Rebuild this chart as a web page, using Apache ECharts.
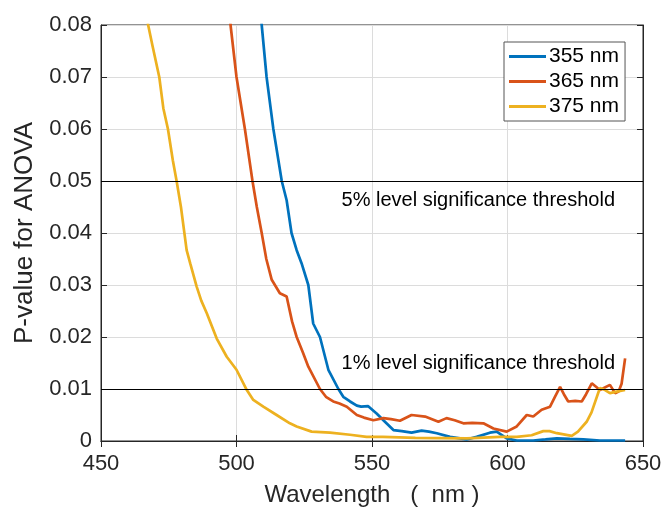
<!DOCTYPE html>
<html>
<head>
<meta charset="utf-8">
<script src="https://cdn.jsdelivr.net/npm/echarts@6/dist/echarts.min.js"></script>
<style>
  html, body { margin: 0; padding: 0; background: #fff; }
  #chart { width: 664px; height: 509px; }
</style>
</head>
<body>
<div id="chart"></div>
<script>
// wavelength (nm) and ANOVA p-values
var wl355 = [508, 509.3, 511.1, 513.6, 516.7, 518.5, 520.3, 522.2, 524, 526.5, 528.3, 530.8, 533.9, 537.6, 539.4, 541.9, 544.4, 546, 548.6, 551.7, 554.2, 557.9, 561, 564.6, 568.3, 571, 573.9, 578.8, 584.9, 588.6, 593.5, 596, 599.7, 603.4, 609.5, 614, 618.2, 623, 628, 634.1, 643.4];
var p355 = [0.088, 0.08, 0.07, 0.06, 0.05, 0.0463, 0.04, 0.0367, 0.0342, 0.03, 0.0226, 0.02, 0.0137, 0.01, 0.0085, 0.0076, 0.0068, 0.0066, 0.0067, 0.0053, 0.004, 0.0021, 0.0019, 0.0016, 0.002, 0.0018, 0.0015, 0.0008, 0.0003, 0.0008, 0.0016, 0.0018, 0.0005, 0.0001, 0.0001, 0.0003, 0.0005, 0.0004, 0.0003, 0.0001, 0.0001];

var wl365 = [496.5, 497.8, 500, 503.1, 505.9, 507.5, 509.3, 511, 513, 516, 518.5, 520.5, 522.2, 524.5, 526.5, 530.8, 533, 535.7, 538, 540.7, 544.4, 547, 550.5, 554.2, 557, 560.3, 564.6, 569.6, 574.5, 577.5, 580.5, 583.7, 587, 591.1, 594.8, 599.7, 603.4, 607.1, 609.5, 612.6, 615.7, 617.5, 619.4, 620.8, 622.4, 625, 627.4, 629, 631.1, 634.1, 637.8, 639.7, 641, 642.1, 643.4];
var p365 = [0.088, 0.08, 0.07, 0.06, 0.05, 0.045, 0.04, 0.035, 0.031, 0.0284, 0.0278, 0.023, 0.02, 0.017, 0.0143, 0.01, 0.0085, 0.0076, 0.0072, 0.0066, 0.005, 0.0045, 0.004, 0.0044, 0.0042, 0.0039, 0.005, 0.0047, 0.0037, 0.0044, 0.004, 0.0034, 0.0035, 0.0034, 0.0024, 0.0018, 0.0028, 0.005, 0.0047, 0.006, 0.0066, 0.0085, 0.0104, 0.009, 0.0076, 0.0077, 0.0076, 0.009, 0.0111, 0.0098, 0.0108, 0.0092, 0.0095, 0.011, 0.0159];

var wl375 = [465.5, 467.4, 469, 471.5, 473, 474.7, 476.5, 477.9, 479.5, 481.6, 483, 485.3, 487, 489, 492.7, 496.4, 500, 503.8, 506.2, 509.9, 514.8, 519.7, 522.2, 527.7, 534.5, 541.9, 548, 554, 566, 585, 597.3, 603.4, 608.9, 613.2, 615.5, 618.2, 623.7, 626, 629.2, 631, 634.1, 636, 637.8, 640.3, 643.4];
var p375 = [0.088, 0.08, 0.076, 0.07, 0.064, 0.06, 0.054, 0.05, 0.045, 0.0367, 0.034, 0.0297, 0.027, 0.0246, 0.0197, 0.0162, 0.0137, 0.0098, 0.0079, 0.0066, 0.005, 0.0034, 0.0028, 0.0018, 0.0016, 0.0012, 0.0008, 0.0008, 0.0006, 0.0005, 0.0008, 0.0008, 0.0011, 0.0019, 0.0019, 0.0015, 0.001, 0.0018, 0.0037, 0.0055, 0.0102, 0.0098, 0.0092, 0.0095, 0.0098];

var seriesNames = ["355 nm", "365 nm", "375 nm"];
var seriesColors = ["#0072BD", "#D95319", "#EDB120"];
var thresholds = [0.05, 0.01];
var thresholdLabels = ["5% level significance threshold", "1% level significance threshold"];

function pairs(xs, ys) {
  return xs.map(function (x, i) { return [x, ys[i]]; });
}

var axisColor = "#262626";
var font = "'Liberation Sans', Arial, sans-serif";

var myChart = echarts.init(document.getElementById("chart"));

var allData = [pairs(wl355, p355), pairs(wl365, p365), pairs(wl375, p375)];

var series = allData.map(function (d, i) {
  return {
    name: seriesNames[i],
    type: "line",
    data: d,
    showSymbol: false,
    symbol: "none",
    clip: true,
    lineStyle: { width: 2.7, color: seriesColors[i] },
    itemStyle: { color: seriesColors[i] },
    z: 3
  };
});

series[0].markLine = {
  silent: true,
  symbol: ["none", "none"],
  lineStyle: { color: "#000", width: 1, type: "solid" },
  z: 4,
  data: [
    {
      yAxis: thresholds[0],
      label: {
        show: true,
        formatter: thresholdLabels[0],
        position: "insideEndBottom",
        distance: [28, 9],
        fontSize: 20,
        fontFamily: font,
        color: "#000"
      }
    },
    {
      yAxis: thresholds[1],
      label: {
        show: true,
        formatter: thresholdLabels[1],
        position: "insideEndTop",
        distance: [28, 16],
        fontSize: 20,
        fontFamily: font,
        color: "#000"
      }
    }
  ]
};

myChart.setOption({
  animation: false,
  backgroundColor: "#fff",
  grid: {
    left: 101,
    right: 21,
    top: 25,
    bottom: 68,
    outerBoundsMode: "none",
    show: true,
    borderColor: axisColor,
    borderWidth: 1,
    backgroundColor: "#fff"
  },
  legend: {
    orient: "vertical",
    left: 504,
    top: 42,
    data: seriesNames,
    icon: "rect",
    itemWidth: 37,
    itemHeight: 3,
    itemGap: 4,
    padding: [4, 6, 4, 5],
    backgroundColor: "#fff",
    borderColor: "#555",
    borderWidth: 1,
    textStyle: { fontSize: 21, fontFamily: font, color: "#000", padding: [0, 0, 0, -2] }
  },
  xAxis: [
    {
      type: "value",
      min: 450,
      max: 650,
      interval: 50,
      name: "Wavelength   (  nm )",
      nameLocation: "middle",
      nameGap: 42,
      nameTextStyle: { fontSize: 24, fontFamily: font, color: axisColor },
      axisLine: { show: true, lineStyle: { color: axisColor } },
      axisTick: { show: true, inside: true, length: 6, lineStyle: { color: axisColor } },
      axisLabel: { fontSize: 22, fontFamily: font, color: axisColor, margin: 12 },
      splitLine: { show: true, lineStyle: { color: "#dcdcdc", width: 1 } }
    },
    {
      type: "value",
      position: "top",
      min: 450,
      max: 650,
      interval: 50,
      axisLine: { show: true, lineStyle: { color: axisColor } },
      axisTick: { show: true, inside: true, length: 6, lineStyle: { color: axisColor } },
      axisLabel: { show: false },
      splitLine: { show: false }
    }
  ],
  yAxis: [
    {
      type: "value",
      min: 0,
      max: 0.08,
      interval: 0.01,
      name: "P-value for ANOVA",
      nameLocation: "middle",
      nameGap: 63,
      nameTextStyle: { fontSize: 26, fontFamily: font, color: axisColor },
      axisLine: { show: true, lineStyle: { color: axisColor } },
      axisTick: { show: true, inside: true, length: 6, lineStyle: { color: axisColor } },
      axisLabel: {
        fontSize: 22,
        fontFamily: font,
        color: axisColor,
        margin: 9,
        formatter: function (v) { return v === 0 ? "0" : v.toFixed(2); }
      },
      splitLine: { show: true, lineStyle: { color: "#dcdcdc", width: 1 } }
    },
    {
      type: "value",
      position: "right",
      min: 0,
      max: 0.08,
      interval: 0.01,
      axisLine: { show: true, lineStyle: { color: axisColor } },
      axisTick: { show: true, inside: true, length: 6, lineStyle: { color: axisColor } },
      axisLabel: { show: false },
      splitLine: { show: false }
    }
  ],
  series: series
});
</script>
</body>
</html>
